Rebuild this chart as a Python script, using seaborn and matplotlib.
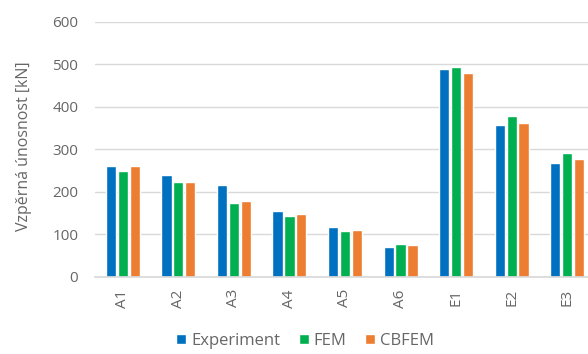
import matplotlib
matplotlib.use("Agg")
import matplotlib.pyplot as plt
import seaborn as sns
import pandas as pd

categories = ["A1", "A2", "A3", "A4", "A5", "A6", "E1", "E2", "E3"]
experiment = [260, 239, 215, 155, 118, 71, 489, 357, 267]
fem = [248, 224, 174, 143, 108, 76, 493, 379, 292]
cbfem = [260, 222, 177, 147, 111, 75, 479, 362, 278]
series_names = ["Experiment", "FEM", "CBFEM"]
colors = ["#0070C0", "#00B050", "#ED7D31"]

rows = []
for name, vals in zip(series_names, [experiment, fem, cbfem]):
    for c, v in zip(categories, vals):
        rows.append({"cat": c, "series": name, "val": v})
df = pd.DataFrame(rows)

sns.set_theme(style="white")
plt.rcParams["font.family"] = ["Open Sans", "DejaVu Sans"]

fig = plt.figure(figsize=(5.88, 3.54), dpi=100)
ax = fig.add_axes([95 / 588, 1 - 276.7 / 354, 500 / 588, (276.7 - 21.7) / 354])

sns.barplot(data=df, x="cat", y="val", hue="series", palette=colors,
            order=categories, hue_order=series_names, width=0.64, gap=0.14,
            saturation=1, ax=ax)

ax.set_ylim(0, 600)
ax.set_xlim(-0.5, 8.5)
ax.set_yticks(range(0, 601, 100))
ax.yaxis.grid(True, color="#d9d9d9", linewidth=1)
ax.set_axisbelow(True)
for s in ["top", "right", "left"]:
    ax.spines[s].set_visible(False)
ax.spines["bottom"].set_color("#d9d9d9")
ax.tick_params(axis="both", colors="#666666", labelsize=11, length=0)
ax.tick_params(axis="y", pad=12)
ax.tick_params(axis="x", pad=9)
plt.setp(ax.get_xticklabels(), rotation=90)
ax.set_xlabel("")
ax.set_ylabel("Vzpěrná únosnost [kN]", color="#666666", fontsize=11.5)
ax.yaxis.set_label_coords(-0.126, 0.51)

handles, labels = ax.get_legend_handles_labels()
ax.get_legend().remove()
fig.legend(handles, labels, loc="center", bbox_to_anchor=(305 / 588, 1 - 341 / 354),
           ncol=3, frameon=False, fontsize=12, handlelength=0.6, handleheight=0.6,
           handletextpad=0.3, columnspacing=1.1, labelcolor="#666666")

fig.savefig("out.png", dpi=100)
